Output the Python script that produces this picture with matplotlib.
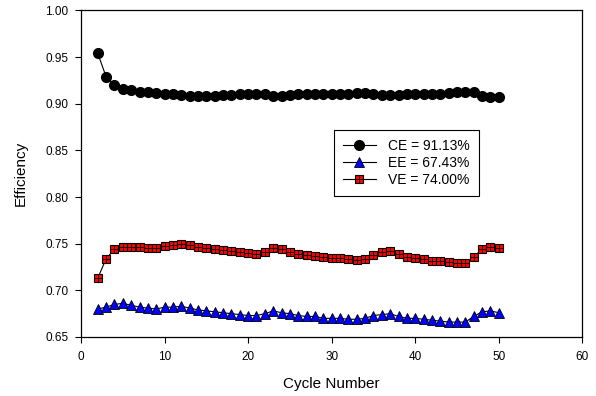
import matplotlib
matplotlib.use('Agg')
import matplotlib.pyplot as plt
from matplotlib.legend_handler import HandlerTuple
from matplotlib.lines import Line2D

plt.rcParams['font.family'] = ['Liberation Sans', 'DejaVu Sans']

# cycle numbers
cycles = list(range(2, 51))

# coulombic efficiency
ce = [0.954, 0.929, 0.920, 0.916, 0.915, 0.913, 0.913, 0.912, 0.911, 0.910,
      0.909, 0.908, 0.908, 0.908, 0.908, 0.909, 0.909, 0.910, 0.910, 0.910,
      0.911, 0.908, 0.908, 0.909, 0.910, 0.910, 0.911, 0.911, 0.911, 0.911,
      0.911, 0.912, 0.912, 0.911, 0.909, 0.909, 0.909, 0.910, 0.910, 0.911,
      0.911, 0.911, 0.912, 0.913, 0.913, 0.913, 0.908, 0.907, 0.907]

# energy efficiency
ee = [0.680, 0.682, 0.685, 0.686, 0.684, 0.682, 0.681, 0.680, 0.682, 0.682,
      0.683, 0.681, 0.679, 0.678, 0.677, 0.676, 0.675, 0.674, 0.673, 0.673,
      0.675, 0.678, 0.676, 0.675, 0.673, 0.672, 0.672, 0.670, 0.670, 0.670,
      0.669, 0.669, 0.670, 0.673, 0.674, 0.675, 0.672, 0.670, 0.670, 0.669,
      0.668, 0.667, 0.666, 0.666, 0.666, 0.672, 0.677, 0.678, 0.676]

# voltage efficiency
ve = [0.713, 0.734, 0.744, 0.747, 0.747, 0.747, 0.745, 0.745, 0.748, 0.749,
      0.750, 0.749, 0.746, 0.745, 0.744, 0.743, 0.742, 0.741, 0.740, 0.739,
      0.741, 0.745, 0.744, 0.741, 0.739, 0.738, 0.737, 0.736, 0.735, 0.735,
      0.734, 0.733, 0.734, 0.738, 0.741, 0.742, 0.739, 0.736, 0.735, 0.734,
      0.732, 0.731, 0.730, 0.729, 0.729, 0.736, 0.744, 0.747, 0.745]

labels = ['CE = 91.13%', 'EE = 67.43%', 'VE = 74.00%']

fig = plt.figure(figsize=(5.96, 3.96), dpi=100)
ax = fig.add_axes([0.136, 0.149, 0.841, 0.8245])

ax.plot(cycles, ce, color='black', lw=0.8, marker='o', ms=7,
        mfc='black', mec='black', zorder=3)
ax.plot(cycles, ee, color='black', lw=0.8, marker='^', ms=6.5,
        mfc='#0000ff', mec='black', mew=0.6, zorder=3)
ax.plot(cycles, ve, color='black', lw=0.8, marker='s', ms=5.5,
        mfc='#ff0000', mec='black', mew=0.8, zorder=3)
# grid pattern inside the squares
ax.plot(cycles, ve, ls='none', marker='+', ms=5.5, mec='black', mew=0.6, zorder=4)

ax.set_xlim(0, 60)
ax.set_ylim(0.65, 1.00)
ax.set_xticks(range(0, 61, 10))
ax.set_yticks([0.65, 0.70, 0.75, 0.80, 0.85, 0.90, 0.95, 1.00])
ax.set_yticklabels(['%.2f' % v for v in ax.get_yticks()])
ax.tick_params(direction='out', length=4, width=0.8, labelsize=8.5)
ax.tick_params(axis='x', pad=6)
ax.tick_params(axis='y', pad=5)
for s in ax.spines.values():
    s.set_linewidth(0.9)

ax.set_xlabel('Cycle Number', fontsize=11, labelpad=10)
ax.set_ylabel('Efficiency', fontsize=11, labelpad=13)

h_ce = Line2D([], [], color='black', lw=0.8, marker='o', ms=7, mfc='black', mec='black')
h_ee = Line2D([], [], color='black', lw=0.8, marker='^', ms=6.5, mfc='#0000ff', mec='black', mew=0.6)
h_ve = (Line2D([], [], color='black', lw=0.8, marker='s', ms=5.5, mfc='#ff0000', mec='black', mew=0.8),
        Line2D([], [], ls='none', marker='+', ms=5.5, mec='black', mew=0.6))
leg = ax.legend([h_ce, h_ee, h_ve], labels, loc='upper left',
                bbox_to_anchor=(0.49, 0.655), fontsize=10, fancybox=False,
                framealpha=1, edgecolor='black', handlelength=2.4,
                handletextpad=0.9, labelspacing=0.2, borderpad=0.65,
                handler_map={tuple: HandlerTuple(ndivide=1, pad=0)})
leg.get_frame().set_linewidth(0.8)

fig.savefig('out.png', dpi=100)
